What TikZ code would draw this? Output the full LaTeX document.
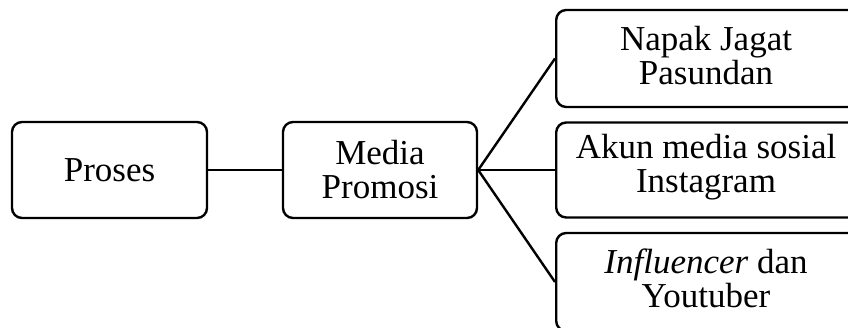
\documentclass[tikz,border=0pt]{standalone}
\usepackage{fontspec}
\setmainfont{Liberation Serif}
\begin{document}
\begin{tikzpicture}[x=1pt,y=-1pt,
  box/.style={draw, line width=2.4pt, rounded corners=10pt, align=center,
    inner sep=0pt, font=\fontsize{35}{34}\selectfont},
  txt/.style={align=center, inner sep=0pt, font=\fontsize{35}{34}\selectfont},
  link/.style={line width=2.4pt}]
\useasboundingbox (0,0) rectangle (848,327);
\clip (0,0) rectangle (848,327);
\node[box, minimum width=195pt, minimum height=96pt] (proses) at (109.5,170) {Proses};
\node[box, minimum width=194pt, minimum height=96pt] (media) at (380,170) {Media\\Promosi};
\node[box, anchor=west, minimum width=340pt, minimum height=97pt] (napak) at (555,58.5) {};
\node[box, anchor=west, minimum width=340pt, minimum height=95pt] (akun) at (555,170) {};
\node[box, anchor=west, minimum width=340pt, minimum height=98pt] (infl) at (555,282) {};
\node[txt] (napakT) at (706,56) {Napak Jagat\\Pasundan};
\node[txt] (akunT) at (706,167.5) {Akun media sosial\\Instagram};
\node[txt] (inflT) at (706,278) {\textit{Influencer} dan\\Youtuber};
\draw[link] (proses.east) -- (media.west);
\draw[link] (media.east) -- (napak.west);
\draw[link] (media.east) -- (akun.west);
\draw[link] (media.east) -- (infl.west);
\end{tikzpicture}
\end{document}
